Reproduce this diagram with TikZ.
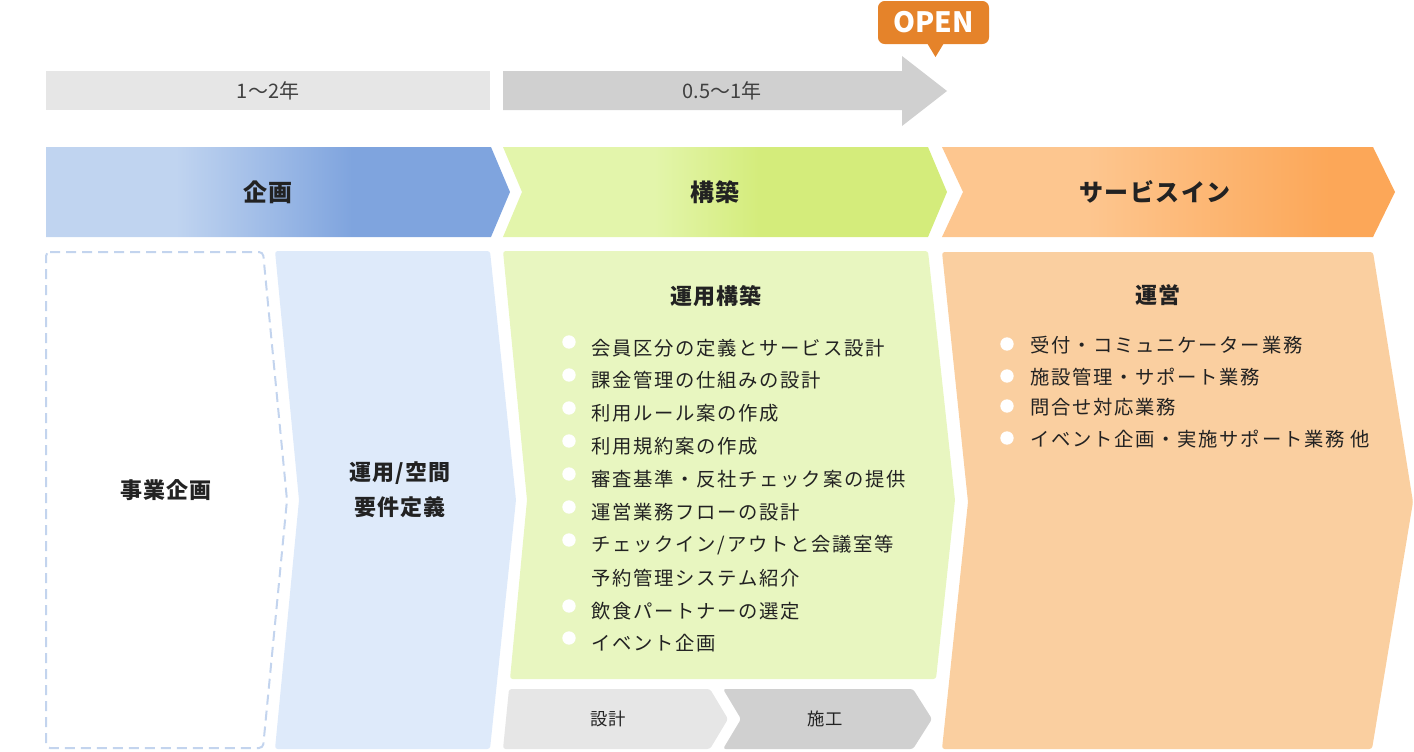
\documentclass[tikz,border=0pt]{standalone}
\usepackage{fontspec}
\setmainfont{Noto Sans CJK JP}
\definecolor{kL}{HTML}{C0D4F0}
\definecolor{kD}{HTML}{7FA4DE}
\definecolor{cL}{HTML}{E3F5AB}
\definecolor{cD}{HTML}{D4EC7B}
\definecolor{sL}{HTML}{FDC68F}
\definecolor{sD}{HTML}{FCA758}
\definecolor{pBlue}{HTML}{DEEAFA}
\definecolor{pGreen}{HTML}{E8F6C0}
\definecolor{pOrange}{HTML}{FACFA0}
\definecolor{gLight}{HTML}{E6E6E6}
\definecolor{gDark}{HTML}{D0D0D0}
\definecolor{openC}{HTML}{E5832A}
\definecolor{dashC}{HTML}{C3D4EE}
\definecolor{txt}{HTML}{222222}
\definecolor{txtg}{HTML}{404040}
\pgfdeclarehorizontalshading{shK}{100bp}{color(0bp)=(kL); color(39bp)=(kL); color(58bp)=(kD); color(100bp)=(kD)}
\pgfdeclarehorizontalshading{shC}{100bp}{color(0bp)=(cL); color(42bp)=(cL); color(54bp)=(cD); color(100bp)=(cD)}
\pgfdeclarehorizontalshading{shS}{100bp}{color(0bp)=(sL); color(41bp)=(sL); color(68bp)=(sD); color(100bp)=(sD)}
\tikzset{
  lst/.style={anchor=west, inner sep=0pt, text=txt, font=\fontsize{14.5pt}{16pt}\selectfont\addfontfeatures{LetterSpace=9}},
  hdr/.style={inner sep=0pt, text=txt, font=\fontsize{18pt}{20pt}\selectfont\bfseries\addfontfeatures{LetterSpace=6}},
  ttl/.style={inner sep=0pt, text=txt, font=\fontsize{16.5pt}{18pt}\selectfont\bfseries\addfontfeatures{LetterSpace=6}},
  dur/.style={inner sep=0pt, text=txtg, font=\fontsize{15pt}{17pt}\selectfont},
  sub/.style={inner sep=0pt, text=txt, font=\fontsize{13pt}{15pt}\selectfont\addfontfeatures{LetterSpace=5}},
  bul/.style={circle, fill=white, inner sep=0pt, minimum size=10pt},
  panel/.style={rounded corners=2pt}
}
\begin{document}
\begin{tikzpicture}[x=0.75pt,y=-0.75pt]
\useasboundingbox (0,0) rectangle (1414,751);
% duration bars
\fill[gLight] (46,71) rectangle (490,110);
\node[dur] (d1) at (268,91) {1～2年};
\fill[gDark] (503,71) -- (902,71) -- (902,56) -- (947,91) -- (902,126) -- (902,110) -- (503,110) -- cycle;
\node[dur] (d2) at (722,91) {0.5～1年};
% OPEN callout
\fill[openC, rounded corners=5pt] (878,1) rectangle (989,44);
\fill[openC] (927,43) -- (944,43) -- (935.5,57) -- cycle;
\node[inner sep=0pt, text=white, font=\fontsize{21pt}{23pt}\selectfont\bfseries] (open) at (933.5,22) {OPEN};
% headers
\shade[shading=shK] (46,147) -- (491,147) -- (510,192) -- (491,237) -- (46,237) -- cycle;
\node[hdr] (hk) at (268,192) {企画};
\shade[shading=shC] (503,147) -- (928,147) -- (947,192) -- (928,237) -- (503,237) -- (522,192) -- cycle;
\node[hdr] (hc) at (715,192) {構築};
\shade[shading=shS] (942,147) -- (1373,147) -- (1395,192) -- (1373,237) -- (942,237) -- (963,192) -- cycle;
\node[hdr] (hs) at (1155,192) {サービスイン};
% panels
\draw[dashC, line width=1.5pt, dash pattern=on 7.5pt off 4.5pt, rounded corners=3pt] (46,252) -- (263,252) -- (287,500) -- (263,748) -- (46,748) -- cycle;
\node[ttl] (pj) at (166,490) {事業企画};
\fill[pBlue, panel] (275,251) -- (490,251) -- (516,500) -- (490,749) -- (275,749) -- (299,500) -- cycle;
\node[ttl] (pb1) at (400,473) {運用/空間};
\node[ttl] (pb2) at (400,507) {要件定義};
\fill[pGreen, panel] (503,251) -- (928,251) -- (955,500) -- (936,679) -- (510,679) -- (527,500) -- cycle;
\node[ttl] (pg) at (716,296) {運用構築};
\fill[gLight, panel] (509,689) -- (710,689) -- (728,719) -- (710,749) -- (503,749) -- cycle;
\node[sub] (ps) at (608,719) {設計};
\fill[gDark, panel] (723,689) -- (913,689) -- (932,719) -- (913,749) -- (723,749) -- (741,719) -- cycle;
\node[sub] (pk) at (825,719) {施工};
\fill[pOrange, panel] (942,252) -- (1373,252) -- (1413,502) -- (1372,749) -- (942,749) -- (968,502) -- cycle;
\node[ttl] (po) at (1158,295) {運営};
% green list
\node[bul] (gb1) at (569,342) {};
\node[lst] (g1) at (591,348) {会員区分の定義とサービス設計};
\node[bul] (gb2) at (569,375) {};
\node[lst] (g2) at (591,380) {課金管理の仕組みの設計};
\node[bul] (gb3) at (569,408) {};
\node[lst] (g3) at (591,413) {利用ルール案の作成};
\node[bul] (gb4) at (569,441) {};
\node[lst] (g4) at (591,446) {利用規約案の作成};
\node[bul] (gb5) at (569,474) {};
\node[lst] (g5) at (591,479) {審査基準・反社チェック案の提供};
\node[bul] (gb6) at (569,507) {};
\node[lst] (g6) at (591,512) {運営業務フローの設計};
\node[bul] (gb7) at (569,540) {};
\node[lst] (g7) at (591,545) {チェックイン/アウトと会議室等};
\node[lst] (g8) at (591,578) {予約管理システム紹介};
\node[bul] (gb9) at (569,606) {};
\node[lst] (g9) at (591,611) {飲食パートナーの選定};
\node[bul] (gb10) at (569,638) {};
\node[lst] (g10) at (591,643) {イベント企画};
% orange list
\node[bul] (ob1) at (1007,344) {};
\node[lst] (o1) at (1030,345) {受付・コミュニケーター業務};
\node[bul] (ob2) at (1007,376) {};
\node[lst] (o2) at (1030,377) {施設管理・サポート業務};
\node[bul] (ob3) at (1007,406) {};
\node[lst] (o3) at (1030,407) {問合せ対応業務};
\node[bul] (ob4) at (1007,438) {};
\node[lst] (o4) at (1030,439) {イベント企画・実施サポート業務\ 他};
\end{tikzpicture}
\end{document}
